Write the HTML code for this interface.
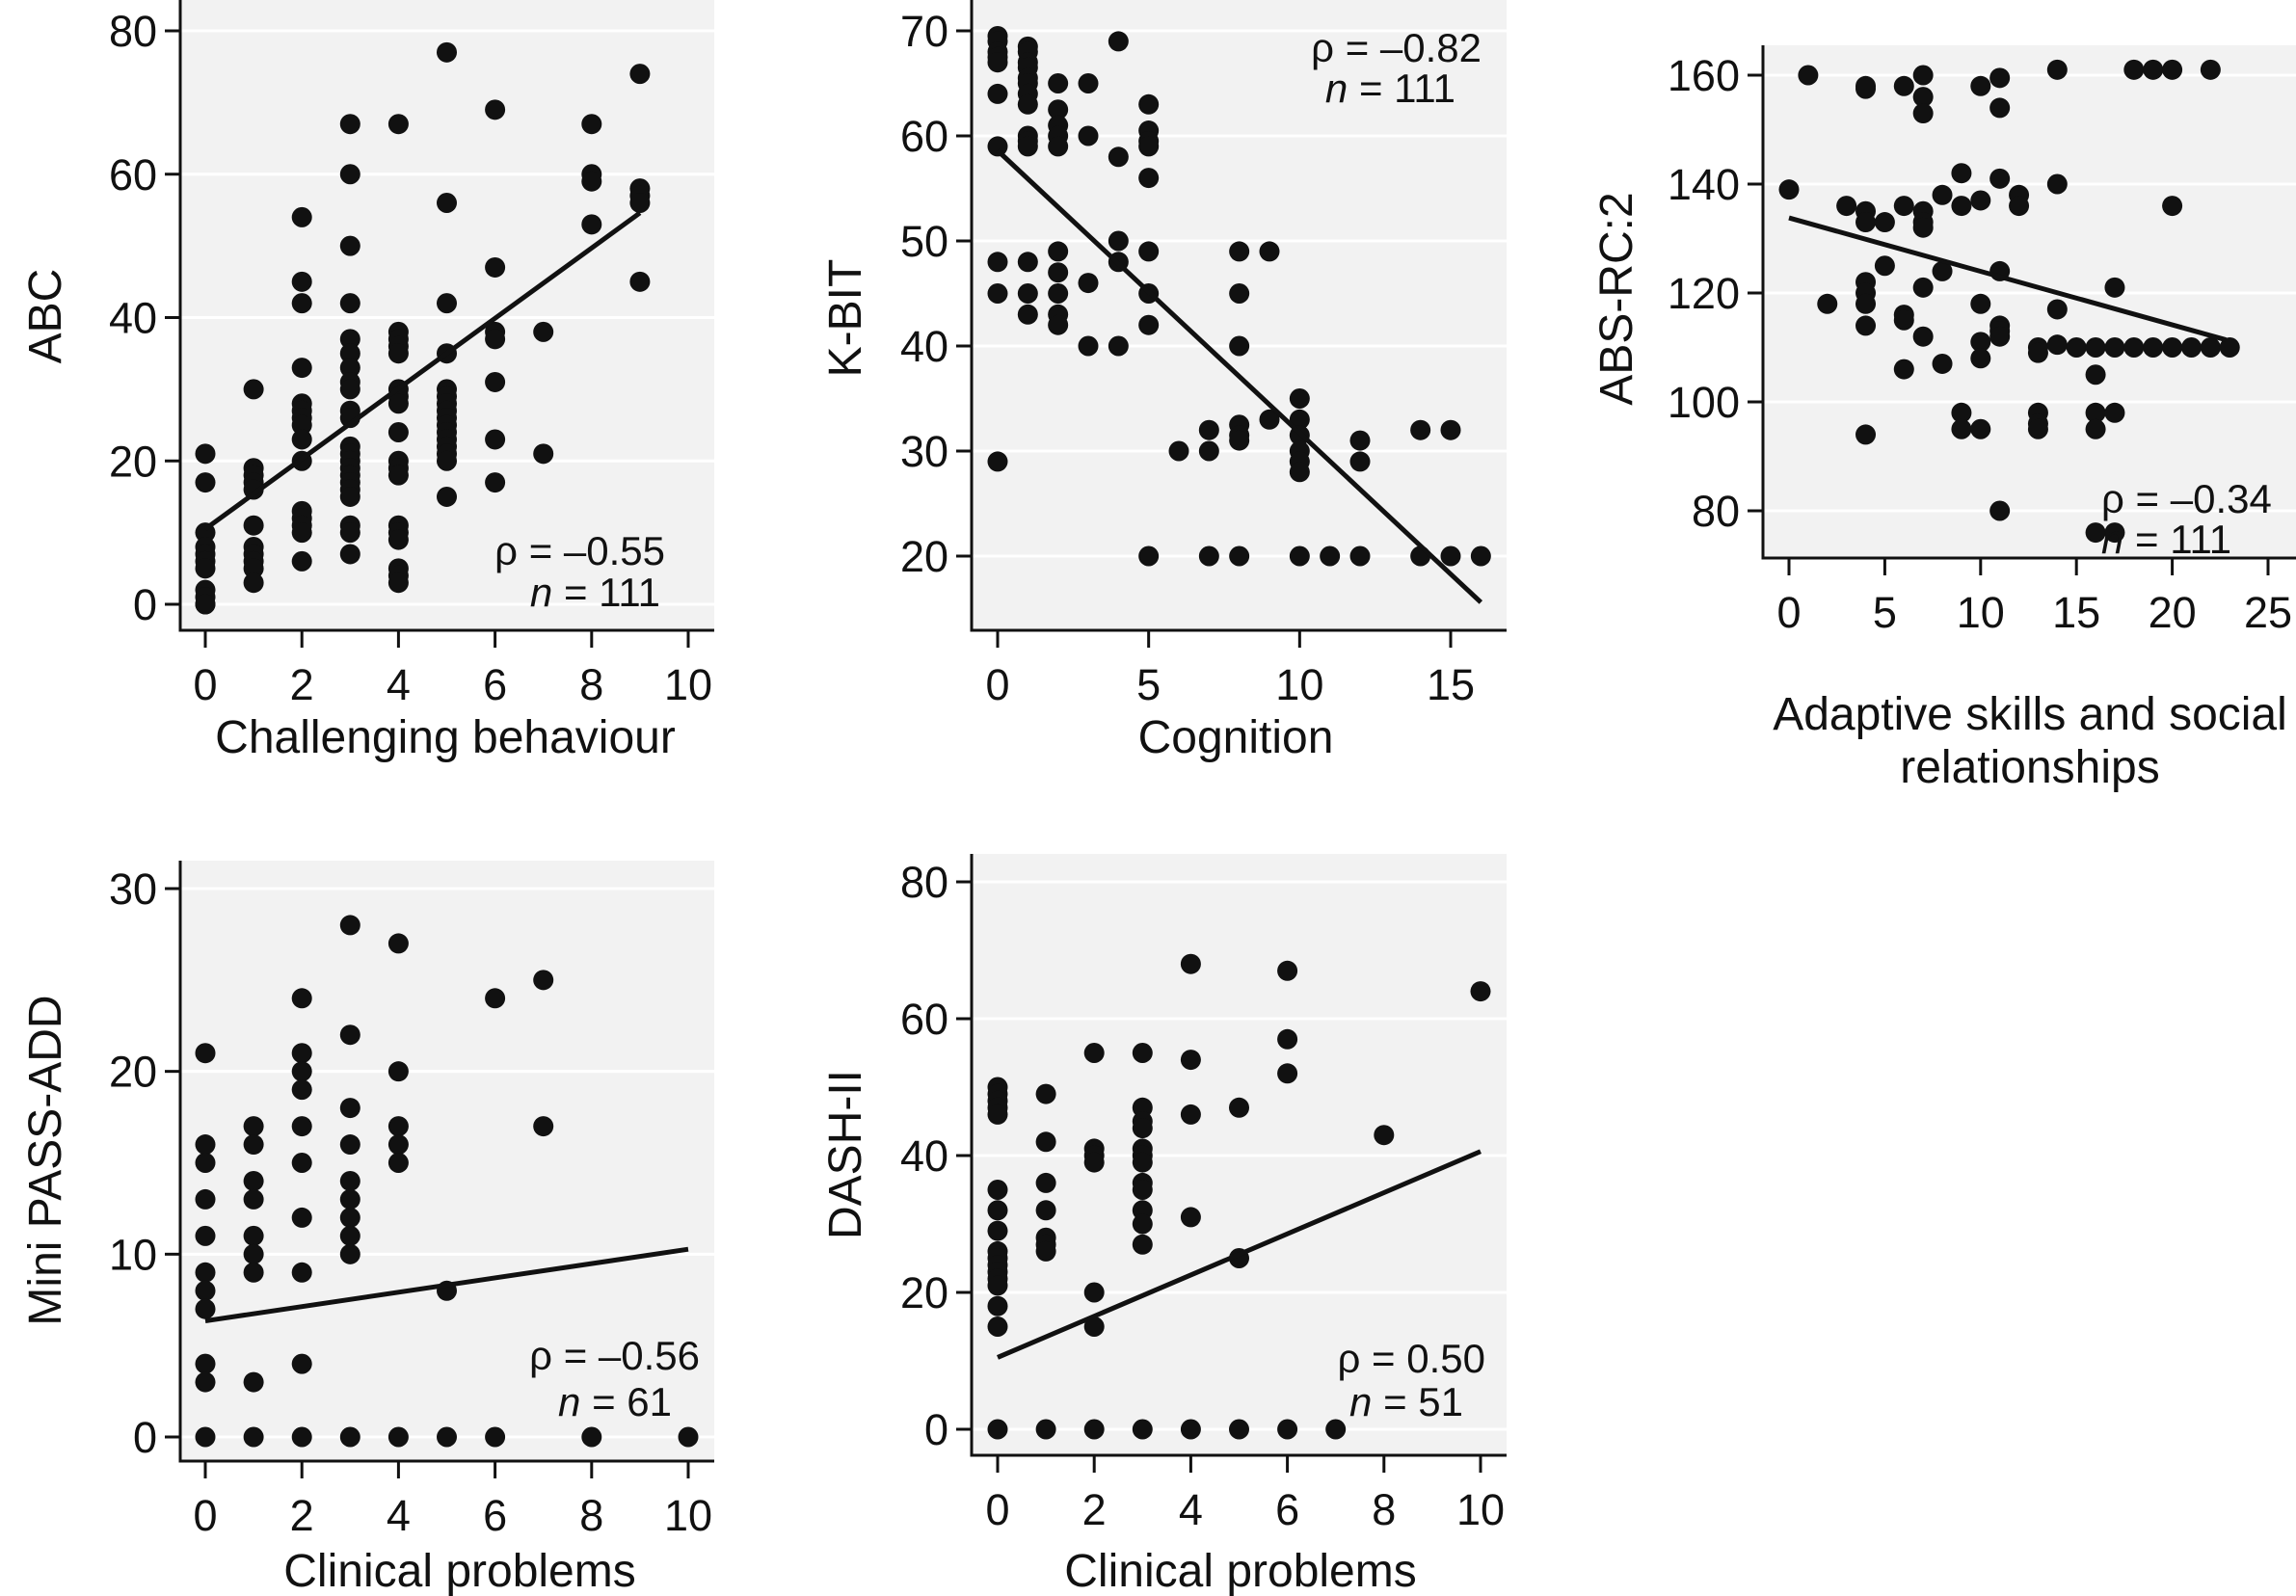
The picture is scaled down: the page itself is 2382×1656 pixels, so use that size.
<!DOCTYPE html>
<html><head><meta charset="utf-8"><style>
html,body{margin:0;padding:0;background:#fff;}
svg{display:block;font-family:"Liberation Sans",Arial,sans-serif;}
</style></head><body>
<svg id="fig" width="2382" height="1656" viewBox="0 0 2382 1656" xmlns="http://www.w3.org/2000/svg"></svg>
<script>
// ---- Panel 1: ABC vs Challenging behaviour ----
const p1X = [0,0,0,0,0,0,0,0,0,0,0,
  1,1,1,1,1,1,1,1,1,1,1,
  2,2,2,2,2,2,2,2,2,2,2,2,2,2,2,
  3,3,3,3,3,3,3,3,3,3,3,3,3,3,3,3,3,3,3,3,3,3,
  4,4,4,4,4,4,4,4,4,4,4,4,4,4,4,4,4,4,
  5,5,5,5,5,5,5,5,5,5,5,5,5,5,5,5,
  6,6,6,6,6,6,6,
  7,7,
  8,8,8,8,
  9,9,9,9,9];
const p1Y = [21,17,10,8,7,6,5,2,1,0,0,
  30,19,18,17,16,11,8,7,6,5,3,
  54,45,42,33,28,27,26,25,23,20,13,12,11,10,6,
  67,60,50,42,37,35,33,31,30,27,26,22,21,20,19,18,17,16,15,11,10,7,
  67,38,37,36,35,30,29,28,24,20,19,18,11,10,9,5,4,3,
  77,56,42,35,30,29,28,27,26,25,24,23,22,21,20,15,
  69,47,38,37,31,23,17,
  38,21,
  67,60,59,53,
  74,58,57,56,45];
const p1Fit = [[0,10.5],[9,54.6]];
const p1XTicks = [0,2,4,6,8,10];
const p1YTicks = [0,20,40,60,80];

// ---- Panel 2: K-BIT vs Cognition ----
const p2X = [0,0,0,0,0,0,0,0,0,0,
  1,1,1,1,1,1,1,1,1,1,1,1,1,1,
  2,2,2,2,2,2,2,2,2,2,
  3,3,3,3,
  4,4,4,4,4,
  5,5,5,5,5,5,5,5,5,
  6,
  7,7,7,
  8,8,8,8,8,8,8,
  9,9,
  10,10,10,10,10,10,10,
  11,
  12,12,12,
  14,14,
  15,15,
  16];
const p2Y = [69.5,69,68,67.5,67,64,59,48,45,29,
  68.5,68,67,66.5,65.5,65,64,63,60,59.5,59,48,45,43,
  65,62.5,61,60,59,49,47,45,43,42,
  65,60,46,40,
  69,58,50,48,40,
  63,60.5,59.5,59,56,49,45,42,20,
  30,
  32,30,20,
  49,45,40,32.5,31.5,31,20,
  49,33,
  35,33,31.5,30,29,28,20,
  20,
  31,29,20,
  32,20,
  32,20,
  20];
const p2Fit = [[0,58.6],[16,15.6]];
const p2XTicks = [0,5,10,15];
const p2YTicks = [20,30,40,50,60,70];

// ---- Panel 3: ABS-RC:2 vs Adaptive skills ----
const p3X = [0,1,2,3, 4,4,4,4,4,4,4,4,4, 5,5, 6,6,6,6,6, 7,7,7,7,7,7,7,7, 8,8,8, 9,9,9,9, 10,10,10,10,10,10, 11,11,11,11,11,11,11,11, 12,12, 13,13,13,13,13, 14,14,14,14, 15, 16,16,16,16,16, 17,17,17,17, 18,18, 19,19, 20,20,20, 21, 22,22, 23];
const p3Y = [139,160,118,136, 158,157.5,135,133,122,120,118,114,94, 133,125, 158,136,116,115,106, 160,156,153,135,133,132,121,112, 138,124,107, 142,136,98,95, 158,137,118,111,108,95, 159.5,154,141,124,114,113,112,80, 138,136, 110,109,98,96,95, 161,140,117,110.5, 110, 110,105,98,95,76, 121,110,98,76, 161,110, 161,110, 161,136,110, 110, 161,110, 110];
const p3Fit = [[0,133.8],[22.8,111.4]];
const p3XTicks = [0,5,10,15,20,25];
const p3YTicks = [80,100,120,140,160];

// ---- Panel 4: Mini PASS-ADD vs Clinical problems ----
const p4X = [0,0,0,0,0,0,0,0,0,0,0,
  1,1,1,1,1,1,1,1,1,
  2,2,2,2,2,2,2,2,2,2,
  3,3,3,3,3,3,3,3,3,3,
  4,4,4,4,4,4,
  5,5,
  6,6,
  7,7,
  8,
  10];
const p4Y = [21,16,15,13,11,9,8,7,4,3,0,
  17,16,14,13,11,10,9,3,0,
  24,21,20,19,17,15,12,9,4,0,
  28,22,18,16,14,13,12,11,10,0,
  27,20,17,16,15,0,
  8,0,
  24,0,
  25,17,
  0,
  0];
const p4Fit = [[0,6.35],[10,10.27]];
const p4XTicks = [0,2,4,6,8,10];
const p4YTicks = [0,10,20,30];

// ---- Panel 5: DASH-II vs Clinical problems ----
const p5X = [0,0,0,0,0,0,0,0,0,0,0,0,0,0,0,0,0,
  1,1,1,1,1,1,1,1,
  2,2,2,2,2,2,2,
  3,3,3,3,3,3,3,3,3,3,3,3,3,
  4,4,4,4,4,
  5,5,5,
  6,6,6,6,
  7,
  8,
  10];
const p5Y = [50,49,48,47,46,35,32,29,26,25,24,23,22,21,18,15,0,
  49,42,36,32,28,27,26,0,
  55,41,40,39,20,15,0,
  55,47,45,44,41,40,39,36,35,32,30,27,0,
  68,54,46,31,0,
  47,25,0,
  67,57,52,0,
  0,
  43,
  64];
const p5Fit = [[0,10.5],[10,40.6]];
const p5XTicks = [0,2,4,6,8,10];
const p5YTicks = [0,20,40,60,80];

const NS = "http://www.w3.org/2000/svg";
const svg = document.getElementById('fig');
function mk(tag, attrs, parent){
  const e = document.createElementNS(NS, tag);
  for (const k in attrs) e.setAttribute(k, attrs[k]);
  (parent||svg).appendChild(e);
  return e;
}

function panel(cfg){
  const g = mk('g', {});
  
  
  const sx = v => cfg.x0px + (v - cfg.x0v) * (cfg.x1px - cfg.x0px) / (cfg.x1v - cfg.x0v);
  const sy = v => cfg.y0px + (v - cfg.y0v) * (cfg.y1px - cfg.y0px) / (cfg.y1v - cfg.y0v);
  const bg = mk('rect', {x: cfg.ax, y: cfg.top, width: cfg.right - cfg.ax, height: cfg.ay - cfg.top, fill: '#f2f2f2'}, g);
  
  
  cfg.yTicks.forEach(t => {
    const y = sy(t);
    const gl = mk('line', {x1: cfg.ax, x2: cfg.right, y1: y, y2: y, stroke: '#ffffff', 'stroke-width': 3}, g);
    
    
    const tk = mk('line', {x1: cfg.ax - 16, x2: cfg.ax, y1: y, y2: y, stroke: '#111', 'stroke-width': 3}, g);
    
    
    const lb = mk('text', {x: cfg.ax - 24, y: y + 16, 'text-anchor': 'end', 'font-size': 45, fill: '#111'}, g);
    lb.textContent = t;
    
    
  });
  cfg.xTicks.forEach(t => {
    const x = sx(t);
    const tk = mk('line', {x1: x, x2: x, y1: cfg.ay, y2: cfg.ay + 18, stroke: '#111', 'stroke-width': 3}, g);
    
    
    const lb = mk('text', {x: x, y: cfg.ay + 72, 'text-anchor': 'middle', 'font-size': 45, fill: '#111'}, g);
    lb.textContent = t;
    
    
  });
  const ya = mk('line', {x1: cfg.ax, x2: cfg.ax, y1: cfg.top, y2: cfg.ay + 1.5, stroke: '#111', 'stroke-width': 3}, g);
  
  
  const xa = mk('line', {x1: cfg.ax - 1.5, x2: cfg.right, y1: cfg.ay, y2: cfg.ay, stroke: '#111', 'stroke-width': 3}, g);
  
  
  cfg.xs.forEach((xv, i) => {
    const c = mk('circle', {cx: sx(xv), cy: sy(cfg.ys[i]), r: 10.5, fill: '#111'}, g);
    
    
  });
  const f = cfg.fit;
  const fl = mk('line', {x1: sx(f[0][0]), y1: sy(f[0][1]), x2: sx(f[1][0]), y2: sy(f[1][1]), stroke: '#111', 'stroke-width': 5}, g);
  
  
  cfg.xTitle.forEach((ln, i) => {
    const t = mk('text', {x: cfg.xtx, y: cfg.xty + i * 55, 'text-anchor': 'middle', 'font-size': 48, fill: '#111'}, g);
    t.textContent = ln;
    
    
  });
  const yt = mk('text', {x: 0, y: 0, 'text-anchor': 'middle', 'font-size': 48, fill: '#111', transform: `translate(${cfg.ytx},${cfg.yty}) rotate(-90)`}, g);
  yt.textContent = cfg.yTitle;
  
  
  const a1 = mk('text', {x: cfg.annX, y: cfg.annY1, 'text-anchor': cfg.annAnchor, 'font-size': 42, fill: '#111'}, g);
  a1.textContent = 'ρ = ' + cfg.rho;
  
  
  const a2 = mk('text', {x: cfg.annX2, y: cfg.annY2, 'text-anchor': cfg.annAnchor, 'font-size': 42, fill: '#111'}, g);
  a2.innerHTML = '<tspan font-style="italic">n</tspan> = ' + cfg.n;
  
  
}

panel({name:'panel-abc', xs:p1X, ys:p1Y, fit:p1Fit, xTicks:p1XTicks, yTicks:p1YTicks,
  ax:187, ay:654, top:0, right:741, x0v:0, x0px:213, x1v:10, x1px:714, y0v:0, y0px:627, y1v:80, y1px:32,
  xTitle:['Challenging behaviour'], xtx:462, xty:781, yTitle:'ABC', ytx:63, yty:328,
  rho:'–0.55', n:'111', annX:690, annX2:685, annY1:586, annY2:629, annAnchor:'end'});
panel({name:'panel-kbit', xs:p2X, ys:p2Y, fit:p2Fit, xTicks:p2XTicks, yTicks:p2YTicks,
  ax:1008, ay:654, top:0, right:1563, x0v:0, x0px:1035, x1v:15, x1px:1505, y0v:20, y0px:577, y1v:70, y1px:32,
  xTitle:['Cognition'], xtx:1282, xty:781, yTitle:'K-BIT', ytx:893, yty:330,
  rho:'–0.82', n:'111', annX:1537, annX2:1510, annY1:64, annY2:106, annAnchor:'end'});
panel({name:'panel-absrc2', xs:p3X, ys:p3Y, fit:p3Fit, xTicks:p3XTicks, yTicks:p3YTicks,
  ax:1829, ay:579, top:47, right:2382, x0v:0, x0px:1856, x1v:25, x1px:2353, y0v:80, y0px:530, y1v:160, y1px:78,
  xTitle:['Adaptive skills and social','relationships'], xtx:2106, xty:757, yTitle:'ABS-RC:2', ytx:1693, yty:310,
  rho:'–0.34', n:'111', annX:2180, annX2:2180, annY1:532, annY2:574, annAnchor:'start'});
panel({name:'panel-minipassadd', xs:p4X, ys:p4Y, fit:p4Fit, xTicks:p4XTicks, yTicks:p4YTicks,
  ax:187, ay:1516, top:893, right:741, x0v:0, x0px:213, x1v:10, x1px:714, y0v:0, y0px:1491, y1v:30, y1px:922,
  xTitle:['Clinical problems'], xtx:477, xty:1646, yTitle:'Mini PASS-ADD', ytx:63, yty:1204,
  rho:'–0.56', n:'61', annX:726, annX2:697, annY1:1421, annY2:1469, annAnchor:'end'});
panel({name:'panel-dash2', xs:p5X, ys:p5Y, fit:p5Fit, xTicks:p5XTicks, yTicks:p5YTicks,
  ax:1008, ay:1510, top:886, right:1563, x0v:0, x0px:1035, x1v:10, x1px:1536, y0v:0, y0px:1483, y1v:80, y1px:915,
  xTitle:['Clinical problems'], xtx:1287, xty:1646, yTitle:'DASH-II', ytx:893, yty:1198,
  rho:'0.50', n:'51', annX:1541, annX2:1518, annY1:1424, annY2:1469, annAnchor:'end'});
</script>
</body></html>
